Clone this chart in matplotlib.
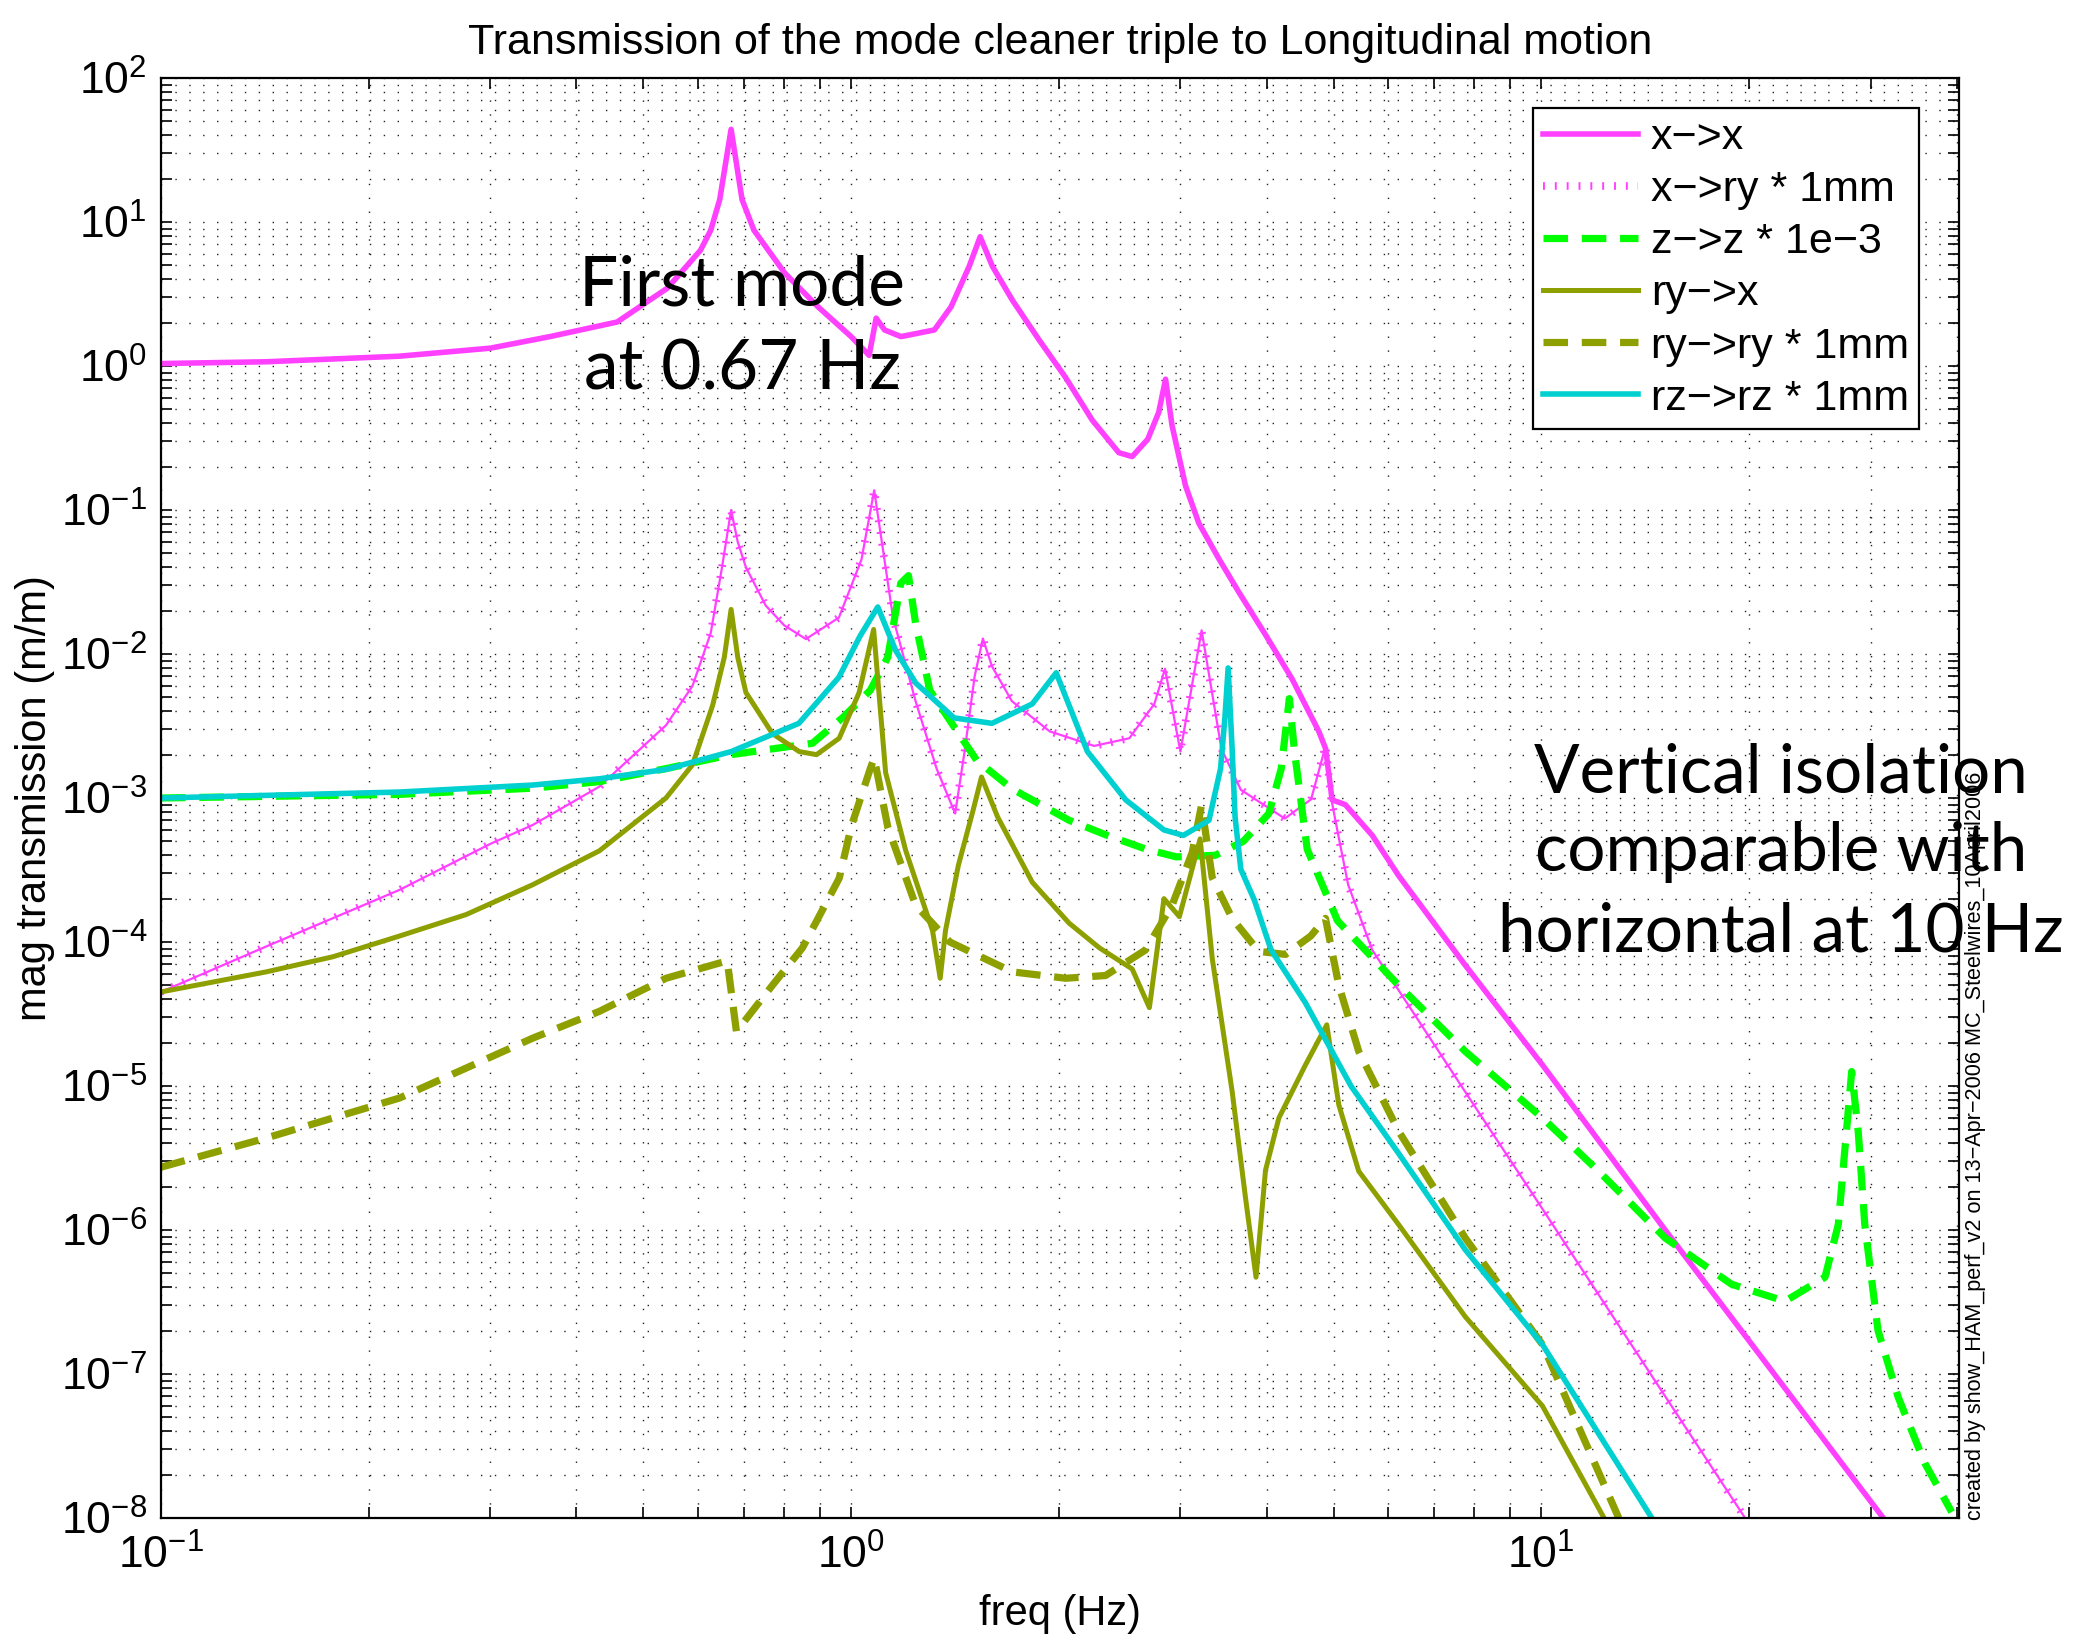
import numpy as np
import matplotlib
matplotlib.use('Agg')
import matplotlib.pyplot as plt
from matplotlib.ticker import LogLocator, NullFormatter

plt.rcParams['font.family'] = ['Liberation Sans', 'DejaVu Sans']
plt.rcParams['mathtext.fontset'] = 'custom'
plt.rcParams['mathtext.rm'] = 'Liberation Sans'

# transfer functions (freq in Hz, magnitude in m/m)
xx_f = [0.1, 0.142, 0.2216, 0.3, 0.366, 0.458, 0.5416, 0.605, 0.626, 0.645, 0.670, 0.695, 0.723,
        0.801, 0.895, 1.0, 1.062, 1.087, 1.118, 1.181, 1.32, 1.396, 1.483, 1.538, 1.602, 1.713,
        1.87, 2.046, 2.236, 2.443, 2.554, 2.69, 2.79, 2.855, 2.918, 3.052, 3.19, 3.412, 3.647,
        3.985, 4.355, 4.761, 4.87, 4.977, 5.2, 5.69, 6.21, 7.76, 10.04, 15.12, 31.3]
xx_v = [1.04, 1.07, 1.17, 1.33, 1.60, 2.02, 3.47, 6.37, 8.77, 14.3, 44.0, 14.3, 8.77,
        4.43, 2.58, 1.60, 1.185, 2.15, 1.78, 1.60, 1.78, 2.58, 4.93, 7.9, 4.93, 2.86,
        1.53, 0.83, 0.42, 0.25, 0.235, 0.31, 0.475, 0.81, 0.384, 0.147, 0.081, 0.0457, 0.0268,
        0.0136, 0.0067, 0.0029, 0.0022, 0.00097, 0.0009, 0.00055, 0.00029, 6.9e-5, 1.4e-5, 1.0e-6, 1.0e-8]

xry_f = [0.1, 0.142, 0.2216, 0.3, 0.3457, 0.4318, 0.5392, 0.589, 0.626, 0.650, 0.670, 0.685, 0.704,
         0.752, 0.80, 0.86, 0.96, 1.035, 1.08, 1.15, 1.24, 1.33, 1.415, 1.46, 1.51, 1.552, 1.6,
         1.71, 1.94, 2.25, 2.53, 2.75, 2.85, 3.0, 3.22, 3.44, 3.67, 4.25, 4.64, 4.87, 4.96, 5.07,
         5.25, 5.69, 7.76, 10.04, 15.12, 19.74]
xry_v = [4.5e-5, 9.3e-5, 2.3e-4, 4.8e-4, 6.5e-4, 1.2e-3, 3.2e-3, 6.0e-3, 0.014, 0.04, 0.1, 0.06, 0.04,
         0.0217, 0.0158, 0.0127, 0.0179, 0.0452, 0.137, 0.0179, 4.7e-3, 1.6e-3, 7.8e-4, 2.1e-3, 7.0e-3, 0.0128, 8.2e-3,
         4.7e-3, 2.9e-3, 2.3e-3, 2.6e-3, 4.5e-3, 7.9e-3, 2.1e-3, 0.0146, 2.2e-3, 1.14e-3, 7.2e-4, 9.8e-4, 2.3e-3, 1.0e-3, 5.8e-4,
         2.5e-4, 8.8e-5, 9.1e-6, 1.4e-6, 7.0e-8, 1.0e-8]

zz_f = [0.1, 0.2216, 0.3457, 0.4318, 0.5392, 0.670, 0.879, 0.975, 1.066, 1.13, 1.18, 1.211, 1.24,
        1.30, 1.41, 1.52, 1.71, 2.07, 2.35, 2.68, 2.96, 3.37, 3.7, 4.03, 4.2, 4.315, 4.39, 4.58,
        5.07, 6.214, 7.76, 10.04, 12.11, 15.12, 18.87, 22.55, 25.77, 26.94, 28.17, 28.79, 29.43,
        30.76, 32.9, 35.96, 39.33]
zz_v = [1.0e-3, 1.06e-3, 1.17e-3, 1.3e-3, 1.6e-3, 2.0e-3, 2.4e-3, 3.66e-3, 5.6e-3, 9.5e-3, 0.031, 0.035, 0.0163,
        5.6e-3, 3.12e-3, 1.83e-3, 1.16e-3, 7.0e-4, 5.5e-4, 4.4e-4, 3.9e-4, 4.0e-4, 5.0e-4, 7.8e-4, 1.6e-3, 4.9e-3, 2.1e-3, 4.4e-4,
        1.4e-4, 5.0e-5, 1.74e-5, 6.0e-6, 2.56e-6, 8.8e-7, 4.2e-7, 3.2e-7, 4.7e-7, 1.09e-6, 1.26e-5, 4.85e-6, 1.09e-6,
        2.0e-7, 6.9e-8, 2.4e-8, 1.1e-8]

ryx_f = [0.1, 0.142, 0.1775, 0.2216, 0.2767, 0.3457, 0.4318, 0.5392, 0.589, 0.630, 0.655, 0.670, 0.685, 0.704, 0.769,
         0.841, 0.891, 0.961, 1.027, 1.078, 1.122, 1.2, 1.312, 1.346, 1.37, 1.43, 1.5, 1.545, 1.63,
         1.83, 2.07, 2.29, 2.554, 2.705, 2.84, 2.99, 3.204, 3.336, 3.565, 3.728, 3.861, 3.985, 4.167,
         4.553, 4.889, 5.089, 5.439, 6.214, 7.76, 10.04, 12.33]
ryx_v = [4.5e-5, 6.2e-5, 7.9e-5, 1.1e-4, 1.55e-4, 2.5e-4, 4.3e-4, 1.0e-3, 1.7e-3, 4.4e-3, 0.0095, 0.0204, 0.0095, 5.4e-3, 2.8e-3,
         2.1e-3, 2.0e-3, 2.6e-3, 5.4e-3, 0.0148, 1.5e-3, 4.3e-4, 1.2e-4, 5.6e-5, 1.2e-4, 3.4e-4, 8.0e-4, 1.4e-3, 7.4e-4,
         2.6e-4, 1.35e-4, 9.1e-5, 6.5e-5, 3.5e-5, 2.0e-4, 1.5e-4, 5.2e-4, 7.7e-5, 9.2e-6, 1.67e-6, 4.7e-7, 2.6e-6, 6.0e-6,
         1.4e-5, 2.66e-5, 7.4e-6, 2.56e-6, 1.09e-6, 2.5e-7, 6.0e-8, 1.0e-8]

ryry_f = [0.1, 0.142, 0.2216, 0.3457, 0.4318, 0.5392, 0.6614, 0.682, 0.769, 0.85, 0.961, 1.0, 1.066,
          1.08, 1.13, 1.24, 1.39, 1.713, 2.046, 2.337, 2.67, 2.918, 3.121, 3.219, 3.336, 3.565, 3.897,
          4.259, 4.634, 4.867, 5.089, 5.439, 6.214, 7.76, 10.04, 12.95]
ryry_v = [2.73e-6, 4.35e-6, 8.25e-6, 2.15e-5, 3.3e-5, 5.6e-5, 7.4e-5, 2.39e-5, 5.0e-5, 9.1e-5, 2.77e-4, 6.3e-4, 1.6e-3,
          1.9e-3, 6.3e-4, 1.8e-4, 1.0e-4, 6.2e-5, 5.6e-5, 5.85e-5, 8.8e-5, 1.8e-4, 4.2e-4, 8.9e-4, 2.8e-4, 1.46e-4, 8.6e-5,
          8.2e-5, 1.1e-4, 1.46e-4, 5.0e-5, 1.74e-5, 4.85e-6, 8.8e-7, 1.6e-7, 1.0e-8]

rzrz_f = [0.1, 0.2216, 0.3457, 0.4318, 0.5392, 0.670, 0.84, 0.96, 1.03, 1.093, 1.16, 1.24, 1.41,
          1.6, 1.83, 1.982, 2.2, 2.5, 2.84, 3.03, 3.3, 3.43, 3.48, 3.518, 3.565, 3.6, 3.67, 3.84,
          4.06, 4.55, 5.3, 6.214, 7.76, 10.04, 14.46]
rzrz_v = [1.0e-3, 1.1e-3, 1.23e-3, 1.36e-3, 1.58e-3, 2.1e-3, 3.3e-3, 6.9e-3, 0.0133, 0.0212, 0.0106, 6.3e-3, 3.6e-3,
          3.3e-3, 4.5e-3, 7.4e-3, 2.1e-3, 9.7e-4, 6.0e-4, 5.5e-4, 7.0e-4, 1.6e-3, 3.6e-3, 8.0e-3, 2.2e-3, 7.4e-4, 3.2e-4, 1.95e-4,
          8.8e-5, 3.8e-5, 1.0e-5, 3.4e-6, 7.3e-7, 1.6e-7, 1.0e-8]

MAGENTA = '#ff40ff'
GREEN = '#00ff00'
OLIVE = '#8ea000'
CYAN = '#00d0d0'

fig = plt.figure(figsize=(20.86, 16.35), dpi=100)
ax = fig.add_axes([161/2086, 1 - 1518/1635, (1959 - 161)/2086, (1518 - 78)/1635])

h_xx, = ax.loglog(xx_f, xx_v, color=MAGENTA, lw=4.0, label='x\u2212>x')
ax.loglog(xry_f, xry_v, color=MAGENTA, lw=1.6)
h_xry, = ax.loglog(xry_f, xry_v, color=MAGENTA, lw=5.5, dashes=(0.25, 1.3), label='x\u2212>ry * 1mm')
h_zz, = ax.loglog(zz_f, zz_v, color=GREEN, lw=5.2, dashes=(3.4, 1.9), label='z\u2212>z * 1e\u22123')
h_ryx, = ax.loglog(ryx_f, ryx_v, color=OLIVE, lw=3.6, label='ry\u2212>x')
h_ryry, = ax.loglog(ryry_f, ryry_v, color=OLIVE, lw=5.2, dashes=(3.4, 1.9), label='ry\u2212>ry * 1mm')
h_rz, = ax.loglog(rzrz_f, rzrz_v, color=CYAN, lw=4.0, label='rz\u2212>rz * 1mm')

ax.set_xlim(0.1, 40.3)
ax.set_ylim(1e-8, 1e2)
ax.set_yticks([10.0**k for k in range(-8, 3)])
ax.set_xticks([0.1, 1, 10])
ax.xaxis.set_minor_locator(LogLocator(base=10, subs=np.arange(2, 10), numticks=20))
ax.yaxis.set_minor_locator(LogLocator(base=10, subs=np.arange(2, 10), numticks=30))
ax.xaxis.set_minor_formatter(NullFormatter())
ax.yaxis.set_minor_formatter(NullFormatter())

ax.tick_params(which='both', direction='in', top=True, right=True, length=8, width=1.2)
ax.tick_params(axis='y', which='major', labelsize=32, pad=10)
ax.tick_params(axis='x', which='major', labelsize=32, pad=12)
for s in ax.spines.values():
    s.set_linewidth(1.6)

ax.grid(True, which='both', color='#222222', lw=1.0, linestyle=(0, (1, 9)))
ax.set_axisbelow(True)

ax.set_title('Transmission of the mode cleaner triple to Longitudinal motion', fontsize=31, pad=17)
ax.set_xlabel('freq (Hz)', fontsize=30, labelpad=12)
ax.set_ylabel('mag transmission (m/m)', fontsize=30, labelpad=4)

leg = ax.legend(handles=[h_xx, h_xry, h_zz, h_ryx, h_ryry, h_rz], loc='upper right',
                bbox_to_anchor=(0.9778, 0.9792), borderaxespad=0, fontsize=31,
                handlelength=2.2, handletextpad=0.3, labelspacing=0.28, borderpad=0.24,
                fancybox=False, framealpha=1)
leg.get_frame().set_edgecolor('black')
leg.get_frame().set_linewidth(1.6)

# annotations, one text per line, placed at their baselines
left_lines = ['First mode', 'at 0.67 Hz']
left_base = [305, 390]
for line, yb in zip(left_lines, left_base):
    fig.text(742/2086, 1 - yb/1635, line, fontsize=50, family='Lato', ha='center', va='baseline')

right_lines = ['Vertical isolation', 'comparable with', 'horizontal at 10 Hz']
right_base = [792, 871, 951]
for line, yb in zip(right_lines, right_base):
    fig.text(1781/2086, 1 - yb/1635, line, fontsize=48.5, family='Lato', ha='center', va='baseline')

fig.text(1975/2086, 1 - 1520/1635,
         'created by show_HAM_perf_v2 on 13\u2212Apr\u22122006 MC_Steelwires_10April2006',
         fontsize=15.6, rotation=90, ha='center', va='bottom')

fig.savefig('out.png', dpi=100)
